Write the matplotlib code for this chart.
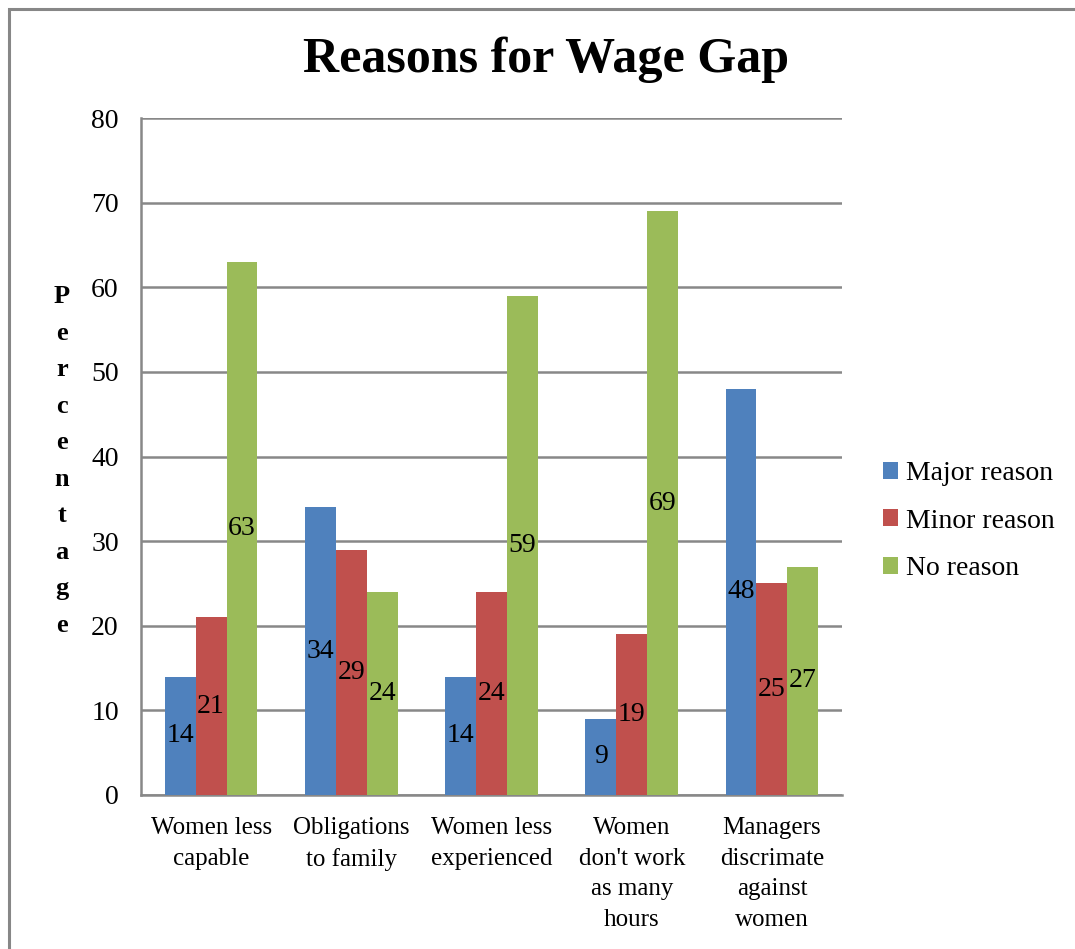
import matplotlib
matplotlib.use("Agg")
import matplotlib.pyplot as plt
from matplotlib.patches import Rectangle
import numpy as np

categories = ["Women less\ncapable", "Obligations\nto family", "Women less\nexperienced",
              "Women\ndon't work\nas many\nhours", "Managers\ndiscrimate\nagainst\nwomen"]
series_names = ["Major reason", "Minor reason", "No reason"]
major = [14, 34, 14, 9, 48]
minor = [21, 29, 24, 19, 25]
no_reason = [63, 24, 59, 69, 27]
yticks = [0, 10, 20, 30, 40, 50, 60, 70, 80]
colors = ["#4F81BD", "#C0504D", "#9BBB59"]

FONT = "Liberation Serif"
plt.rcParams['font.family'] = [FONT, 'DejaVu Serif']

W, H = 1075, 949
fig = plt.figure(figsize=(W / 100, H / 100), dpi=100)
ax = fig.add_axes([141 / W, 1 - 795 / H, (842 - 141) / W, (795 - 118) / H])

x = np.arange(len(categories))
bw = 0.22
gridc = "#888888"
containers = []
for i, (vals, name, c) in enumerate(zip([major, minor, no_reason], series_names, colors)):
    bars = ax.bar(x + (i - 1) * bw, vals, bw, color=c, label=name, zorder=3)
    containers.append(bars)
    ax.bar_label(bars, labels=[str(v) for v in vals], label_type='center',
                 fontsize=20, color='black', zorder=4)

ax.set_xlim(-0.5, len(categories) - 0.5)
ax.set_ylim(0, 80)
ax.set_yticks(yticks)
ax.set_yticklabels([str(t) for t in yticks], fontsize=20)
ax.set_xticks(x)
ax.set_xticklabels(categories, fontsize=18, linespacing=1.5)
ax.tick_params(axis='both', length=0)
ax.tick_params(axis='y', pad=16)
ax.tick_params(axis='x', pad=16)
ax.yaxis.grid(True, color=gridc, linewidth=1.8, zorder=0)
for s in ['top', 'right']:
    ax.spines[s].set_visible(False)
for s in ['left', 'bottom']:
    ax.spines[s].set_color(gridc)
    ax.spines[s].set_linewidth(1.8)

fig.text(546 / W, 1 - 60 / H, "Reasons for Wage Gap", fontsize=36, fontweight='bold',
         ha='center', va='center')
fig.text(62 / W, 1 - 461 / H, "\n".join("Percentage"), fontsize=19, fontweight='bold',
         ha='center', va='center', linespacing=1.75)

leg = fig.legend(handles=containers, labels=series_names, loc='center left',
                 bbox_to_anchor=(883 / W, 1 - 521 / H), frameon=False, fontsize=20,
                 handlelength=0.55, handleheight=0.55, handletextpad=0.28, labelspacing=0.81,
                 borderaxespad=0, borderpad=0)

fig.patches.append(Rectangle((8.5 / W, -0.1), 1.2, 1.1 - 8.5 / H, transform=fig.transFigure,
                             fill=False, edgecolor="#878787", linewidth=2.2))

fig.savefig("out.png", dpi=100)
